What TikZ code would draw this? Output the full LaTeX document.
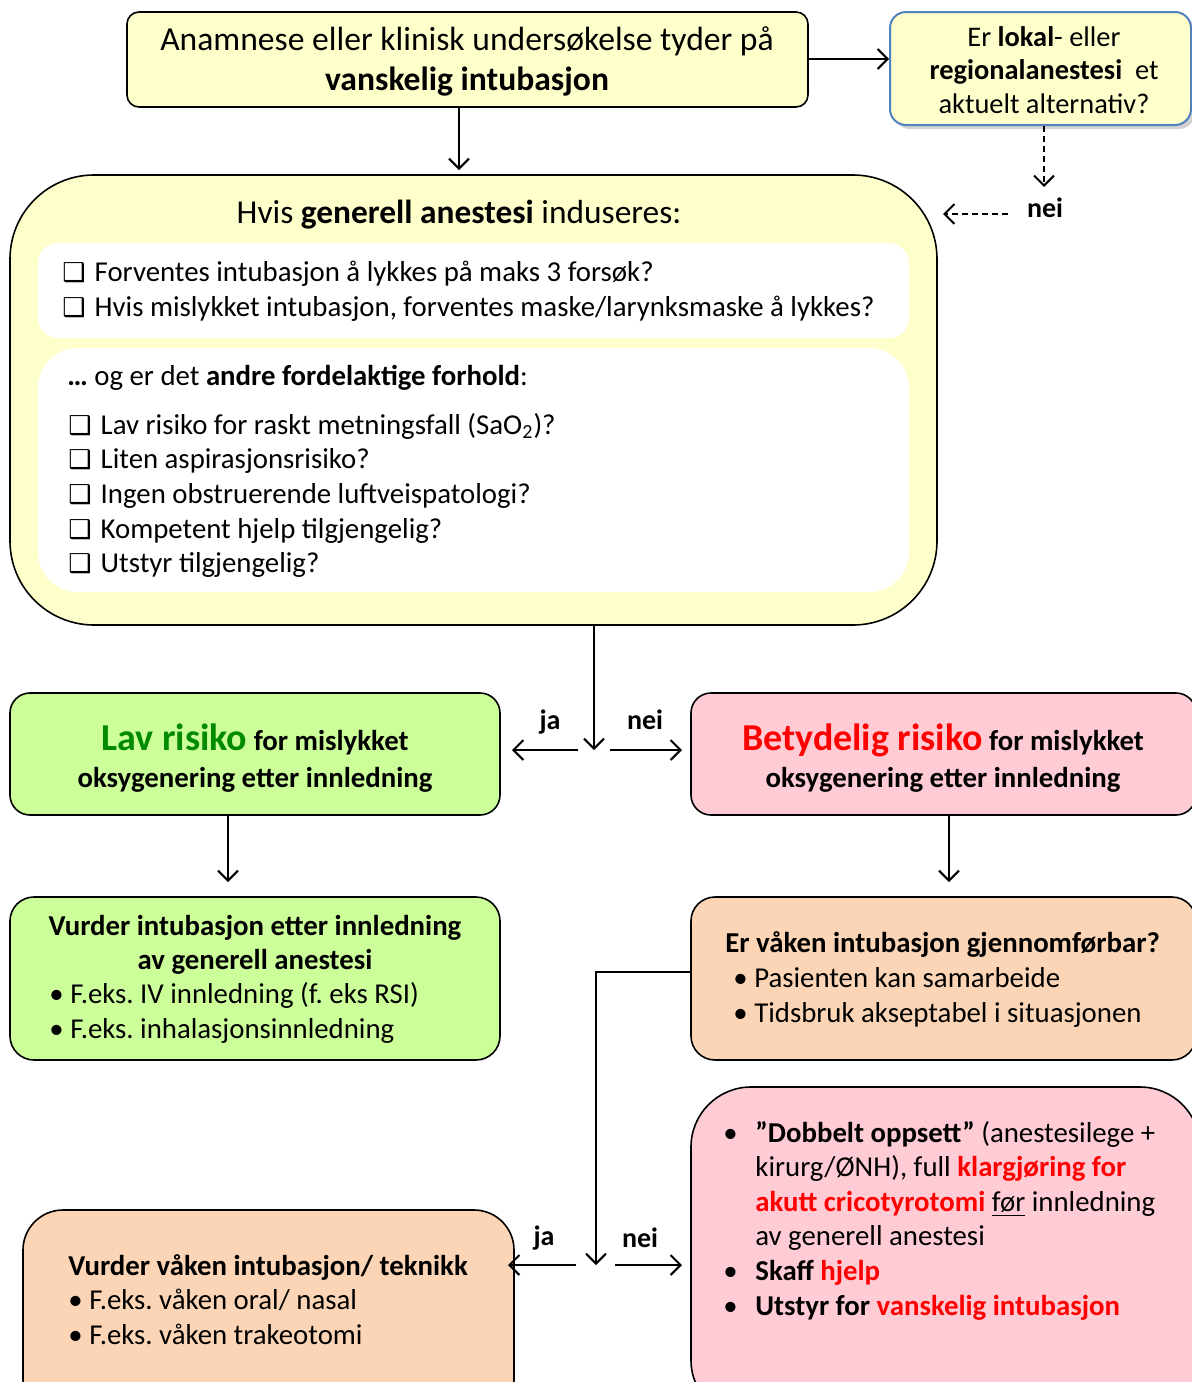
\documentclass[tikz,border=0pt]{standalone}
\usepackage{fontspec}
\setmainfont{Carlito}
\newfontfamily\symfont{DejaVu Sans}
\usetikzlibrary{arrows.meta,fit,shadows}
\definecolor{ylw}{HTML}{FFFFCC}
\definecolor{grn}{HTML}{CCFF99}
\definecolor{pnk}{HTML}{FFCCD5}
\definecolor{org}{HTML}{FBD5B5}
\definecolor{dgreen}{HTML}{008A00}
\definecolor{bblue}{HTML}{4F81BD}
\definecolor{rred}{HTML}{FF0000}
\frenchspacing
\newcommand{\cb}{{\fontsize{13}{13}\symfont\char"2751}\hspace{4.5pt}}
\newcommand{\bul}{\makebox[16pt][l]{•}}
\newcommand{\ind}{\hspace{16pt}}
\begin{document}
\begin{tikzpicture}[x=0.5pt,y=-0.5pt,
  box/.style={draw=black, line width=0.8pt, inner sep=0pt},
  wbox/.style={draw=none, fill=white, inner sep=0pt},
  arr/.style={line width=1pt, -{Straight Barb[length=5pt,width=10pt]}},
  lbl/.style={font=\bfseries\fontsize{14}{16}\selectfont, inner sep=0pt},
  body/.style={inner sep=0pt, font=\fontsize{14.4}{17.3}\selectfont},
]
\useasboundingbox (0,0) rectangle (1192,1382);

% boxes
\node[box, fill=ylw, rounded corners=6pt, fit={(127,12)(808,107)}] (top) {};
\node[box, draw=bblue, fill=ylw, rounded corners=8pt, line width=1pt,
  drop shadow={opacity=0.35, shadow xshift=2pt, shadow yshift=-2pt},
  fit={(890,12)(1191,125)}] (rbox) {};
\node[box, fill=ylw, rounded corners=42pt, fit={(10,175)(937,625)}] (gen) {};
\node[wbox, rounded corners=10pt, fit={(38,243)(909,338)}] (w1) {};
\node[wbox, rounded corners=20pt, fit={(38,348)(909,592)}] (w2) {};
\node[box, fill=grn, rounded corners=10pt, fit={(10,693)(500,815)}] (lav) {};
\node[box, fill=pnk, rounded corners=10pt, fit={(691,693)(1196,815)}] (bet) {};
\node[box, fill=grn, rounded corners=12pt, fit={(10,897)(500,1060)}] (vur) {};
\node[box, fill=org, rounded corners=12pt, fit={(691,897)(1196,1060)}] (vak) {};
\node[box, fill=pnk, rounded corners=30pt, fit={(691,1087)(1200,1420)}] (dob) {};
\node[box, fill=org, rounded corners=20pt, fit={(23,1210)(514,1420)}] (vt) {};

% texts
\node[inner sep=0pt, align=center, font=\fontsize{16.8}{20}\selectfont] (ttop) at (467,61)
  {Anamnese eller klinisk undersøkelse tyder på\\ \textbf{vanskelig intubasjon}};
\node[inner sep=0pt, align=center, font=\fontsize{14.2}{16.8}\selectfont] (trbox) at (1044,70)
  {Er \textbf{lokal}- eller\\ \textbf{regionalanestesi}\ \ et\\ aktuelt alternativ?};
\node[inner sep=0pt, font=\fontsize{16.7}{18}\selectfont] (tgen) at (459,215)
  {Hvis \textbf{generell anestesi} induseres:};
\node[body, align=left, anchor=west] (tw1) at (62,291)
  {\cb Forventes intubasjon å lykkes på maks 3 forsøk?\\
   \cb Hvis mislykket intubasjon, forventes maske/larynksmaske å lykkes?};
\node[body, anchor=west] (tw2h) at (67,378)
  {\textbf{…} og er det \textbf{andre fordelaktige forhold}:};
\node[body, align=left, anchor=west] (tw2) at (68,495.5)
  {\cb Lav risiko for raskt metningsfall (SaO\textsubscript{2})?\\
   \cb Liten aspirasjonsrisiko?\\
   \cb Ingen obstruerende luftveispatologi?\\
   \cb Kompetent hjelp tilgjengelig?\\
   \cb Utstyr tilgjengelig?};
\node[inner sep=0pt, align=center, font=\bfseries\fontsize{14.4}{18.5}\selectfont] (tlav) at (255,758)
  {{\color{dgreen}\fontsize{19}{18.5}\selectfont Lav risiko} for mislykket\\ oksygenering etter innledning};
\node[inner sep=0pt, align=center, font=\bfseries\fontsize{14.4}{18.5}\selectfont] (tbet) at (943,758)
  {{\color{rred}\fontsize{19}{18.5}\selectfont Betydelig risiko} for mislykket\\ oksygenering etter innledning};
\node[inner sep=0pt, align=center, font=\bfseries\fontsize{14.4}{17}\selectfont] (tvur) at (255,945)
  {Vurder intubasjon etter innledning\\ av generell anestesi};
\node[body, align=left, anchor=west] (tvurb) at (49,1013)
  {• F.eks. IV innledning (f. eks RSI)\\ • F.eks. inhalasjonsinnledning};
\node[body, align=left, anchor=west] (tvak) at (725,979.5)
  {\textbf{Er våken intubasjon gjennomførbar?}\\
   \hspace{4pt}• Pasienten kan samarbeide\\
   \hspace{4pt}• Tidsbruk akseptabel i situasjonen};
\node[body, align=left, anchor=west] (tdob) at (723,1220.5)
  {\bul\textbf{”Dobbelt oppsett”} (anestesilege +\\
   \ind kirurg/ØNH), full \textbf{\color{rred}klargjøring for}\\
   \ind\textbf{\color{rred}akutt cricotyrotomi} \underline{før} innledning\\
   \ind av generell anestesi\\
   \bul\textbf{Skaff \color{rred}hjelp}\\
   \bul\textbf{Utstyr for \color{rred}vanskelig intubasjon}};
\node[body, align=left, anchor=west] (tvt) at (68,1299.5)
  {\textbf{Vurder våken intubasjon/ teknikk}\\
   • F.eks. våken oral/ nasal\\
   • F.eks. våken trakeotomi};

% labels
\node[lbl] (nei0) at (1045,208) {nei};
\node[lbl] (ja1) at (550,722) {ja};
\node[lbl] (nei1) at (645,720) {nei};
\node[lbl] (ja2) at (544,1238) {ja};
\node[lbl] (nei2) at (640,1238) {nei};

% coordinates
\coordinate (c0) at (459,170);
\coordinate (cd0) at (1044,187);
\coordinate (cdl) at (1008,214);
\coordinate (cdr) at (943,214);
\coordinate (c1) at (594,750);
\coordinate (c1l) at (578,750);
\coordinate (c1le) at (512,750);
\coordinate (c1r) at (610,750);
\coordinate (c1re) at (682,750);
\coordinate (c2) at (228,882);
\coordinate (c3) at (949,882);
\coordinate (t1) at (596,972);
\coordinate (t2) at (596,1265);
\coordinate (t2l) at (576,1265);
\coordinate (t2le) at (508,1265);
\coordinate (t2r) at (615,1265);
\coordinate (t2re) at (682,1265);

% connectors
\draw[arr] (top.east |- 0,59) -- (rbox.west |- 0,59);
\draw[arr] (c0 |- top.south) -- (c0);
\draw[arr, dashed, dash pattern=on 3pt off 2pt] (rbox.south -| cd0) -- (cd0);
\draw[arr, dashed, dash pattern=on 3pt off 2pt] (cdl) -- (cdr);
\draw[arr] (c1 |- gen.south) -- (c1);
\draw[arr] (c1l) -- (c1le);
\draw[arr] (c1r) -- (c1re);
\draw[arr] (c2 |- lav.south) -- (c2);
\draw[arr] (c3 |- bet.south) -- (c3);
\draw[arr] (t1 -| vak.west) -- (t1) -- (t2);
\draw[arr] (t2l) -- (t2le);
\draw[arr] (t2r) -- (t2re);
\end{tikzpicture}
\end{document}
